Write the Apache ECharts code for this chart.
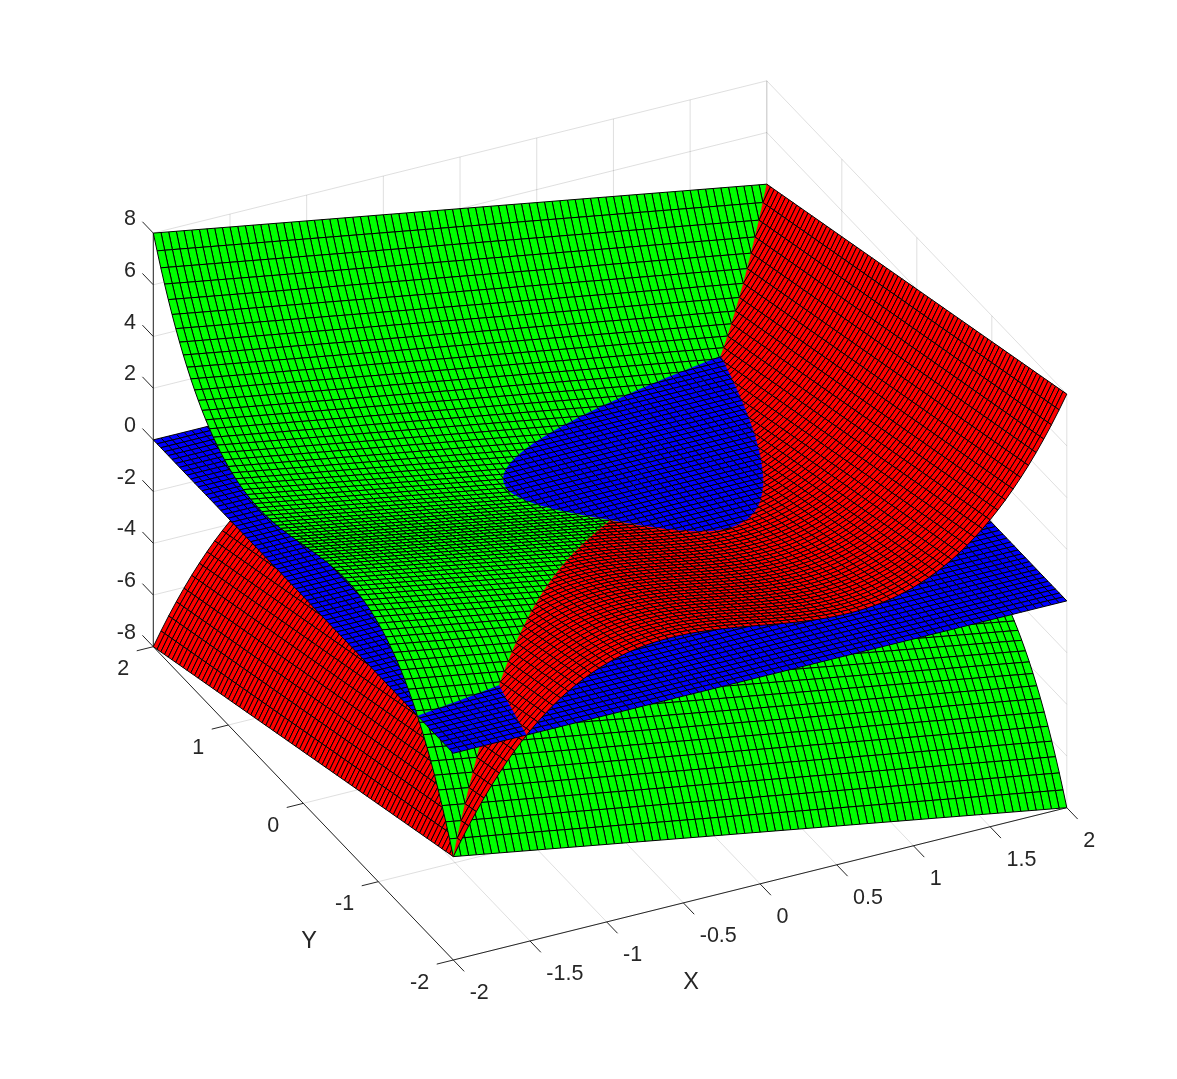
<!DOCTYPE html>
<html>
<head>
<meta charset="utf-8">
<style>html,body{margin:0;padding:0;background:#fff}#chart{width:1177px;height:1079px}</style>
<script src="https://cdn.jsdelivr.net/npm/echarts@6/dist/echarts.min.js"></script>
</head>
<body>
<div id="chart"></div>
<script>
// Sample positions of the mesh along both horizontal axes.
var xValues = [-2,-1.95,-1.9,-1.85,-1.8,-1.75,-1.7,-1.65,-1.6,-1.55,-1.5,-1.45,-1.4,-1.35,-1.3,-1.25,-1.2,-1.15,-1.1,-1.05,-1,-0.95,-0.9,-0.85,-0.8,-0.75,-0.7,-0.65,-0.6,-0.55,-0.5,-0.45,-0.4,-0.35,-0.3,-0.25,-0.2,-0.15,-0.1,-0.05,0,0.05,0.1,0.15,0.2,0.25,0.3,0.35,0.4,0.45,0.5,0.55,0.6,0.65,0.7,0.75,0.8,0.85,0.9,0.95,1,1.05,1.1,1.15,1.2,1.25,1.3,1.35,1.4,1.45,1.5,1.55,1.6,1.65,1.7,1.75,1.8,1.85,1.9,1.95,2];
var yValues = xValues;
// Height profile shared by the two curved sheets, tabulated at the mesh positions.
// Each sheet's table is this profile along one axis minus the position on the other.
var sheetProfile = [-6,-5.465,-4.959,-4.482,-4.032,-3.609,-3.213,-2.842,-2.496,-2.174,-1.875,-1.599,-1.344,-1.11,-0.897,-0.703,-0.528,-0.371,-0.231,-0.108,0,0.093,0.171,0.236,0.288,0.328,0.357,0.375,0.384,0.384,0.375,0.359,0.336,0.307,0.273,0.234,0.192,0.147,0.099,0.05,0,-0.05,-0.099,-0.147,-0.192,-0.234,-0.273,-0.307,-0.336,-0.359,-0.375,-0.384,-0.384,-0.375,-0.357,-0.328,-0.288,-0.236,-0.171,-0.093,0,0.108,0.231,0.371,0.528,0.703,0.897,1.11,1.344,1.599,1.875,2.174,2.496,2.842,3.213,3.609,4.032,4.482,4.959,5.465,6];
var planeLevel = 0;
var xTicks = [-2,-1.5,-1,-0.5,0,0.5,1,1.5,2];
var yTicks = [-2,-1,0,1,2];
var zTicks = [-8,-6,-4,-2,0,2,4,6,8];
var xLabels = ['-2','-1.5','-1','-0.5','0','0.5','1','1.5','2'];
var yLabels = ['-2','-1','0','1','2'];
var zLabels = ['-8','-6','-4','-2','0','2','4','6','8'];

var greenColor = '#00ff00', redColor = '#ff0000', blueColor = '#0000ff';
var axisColor = '#262626', gridColor = 'rgba(38,38,38,0.15)', edgeColor = '#000000';
var fontFamily = '"Liberation Sans", Arial, sans-serif';
var meshWidth = 1;

// Fixed orthographic view of the box.
function project(p) {
  var tx = (p[0] + 2) / 4, ty = (p[1] + 2) / 4, tz = p[2] + 8;
  return [453.3 + tx * 613.5 - ty * 300, 960 - tx * 152.3 - ty * 313.3 - tz * 25.85];
}

var N = xValues.length;
function greenAt(i, j) { return sheetProfile[j] - xValues[i]; }
function redAt(i, j) { return sheetProfile[i] - yValues[j]; }

// Keep the part of a polygon on one side of the plane.
function clipToSide(poly, side) {
  var out = [];
  for (var k = 0; k < poly.length; k++) {
    var a = poly[k], b = poly[(k + 1) % poly.length];
    var da = side * (a[2] - planeLevel), db = side * (b[2] - planeLevel);
    if (da >= 0) out.push(a);
    if ((da > 0 && db < 0) || (da < 0 && db > 0)) {
      var t = da / (da - db);
      out.push([a[0] + t * (b[0] - a[0]), a[1] + t * (b[1] - a[1]), planeLevel]);
    }
  }
  return out;
}

var pieces = [];
function pushPiece(poly, color, whole) {
  if (poly.length >= 3) pieces.push({ poly: poly, color: color, whole: whole });
}
function pushSheet(poly, color, side) {
  var allIn = poly.every(function (v) { return side * (v[2] - planeLevel) >= 0; });
  if (allIn) { pushPiece(poly, color, poly.length === 4); return; }
  var anyIn = poly.some(function (v) { return side * (v[2] - planeLevel) > 0; });
  if (anyIn) pushPiece(clipToSide(poly, side), color, false);
}
function pushStack(corners, greenOnTop) {
  var g = corners.map(function (c) { return [xValues[c[0]], yValues[c[1]], greenAt(c[0], c[1])]; });
  var r = corners.map(function (c) { return [xValues[c[0]], yValues[c[1]], redAt(c[0], c[1])]; });
  var b = corners.map(function (c) { return [xValues[c[0]], yValues[c[1]], planeLevel]; });
  var low = greenOnTop ? r : g, lowC = greenOnTop ? redColor : greenColor;
  var up = greenOnTop ? g : r, upC = greenOnTop ? greenColor : redColor;
  pushSheet(low, lowC, -1);
  pushSheet(up, upC, -1);
  pushPiece(b, blueColor, b.length === 4);
  pushSheet(low, lowC, 1);
  pushSheet(up, upC, 1);
}
// Far columns first, lowest sheet first inside a column.
for (var j = N - 2; j >= 0; j--) {
  for (var i = N - 2; i >= 0; i--) {
    if (i === j) {
      pushStack([[i, j], [i + 1, j + 1], [i, j + 1]], true);
      pushStack([[i, j], [i + 1, j], [i + 1, j + 1]], false);
    } else {
      pushStack([[i, j], [i + 1, j], [i + 1, j + 1], [i, j + 1]], i < j);
    }
  }
}

// Box furniture.
var segments = [];
function seg(a, b, color, width) { segments.push({ a: a, b: b, color: color, width: width }); }
xTicks.forEach(function (x) {
  seg([x, -2, -8], [x, 2, -8], gridColor, 1);
  seg([x, 2, -8], [x, 2, 8], gridColor, 1);
});
yTicks.forEach(function (y) {
  seg([-2, y, -8], [2, y, -8], gridColor, 1);
  seg([2, y, -8], [2, y, 8], gridColor, 1);
});
zTicks.forEach(function (z) {
  seg([-2, 2, z], [2, 2, z], gridColor, 1);
  seg([2, -2, z], [2, 2, z], gridColor, 1);
});
seg([-2, -2, -8], [2, -2, -8], axisColor, 1);
seg([-2, -2, -8], [-2, 2, -8], axisColor, 1);
seg([-2, 2, -8], [-2, 2, 8], axisColor, 1);
var labels = [];
xTicks.forEach(function (x, k) {
  seg([x, -2, -8], [x, -2.145, -8], axisColor, 1);
  var end = project([x, -2.145, -8]);
  labels.push({ text: xLabels[k], x: end[0] + 5.5, y: end[1] + 22, align: 'left', size: 21.5 });
});
yTicks.forEach(function (y, k) {
  seg([-2, y, -8], [-2.108, y, -8], axisColor, 1);
  var end = project([-2.108, y, -8]);
  labels.push({ text: yLabels[k], x: end[0] - 7.5, y: end[1] + 18.5, align: 'right', size: 21.5 });
});
zTicks.forEach(function (z, k) {
  seg([-2, 2, z], [-2, 2.145, z], axisColor, 1);
  var end = project([-2, 2.145, z]);
  labels.push({ text: zLabels[k], x: end[0] - 6.5, y: end[1] - 2.5, align: 'right', size: 21.5 });
});
labels.push({ text: 'X', x: 691, y: 983, align: 'center', size: 23.5 });
labels.push({ text: 'Y', x: 309, y: 942, align: 'center', size: 23.5 });

function indexData(list) { return list.map(function (_, k) { return [k]; }); }

var chart = echarts.init(document.getElementById('chart'), null, { renderer: 'canvas' });
chart.setOption({
  animation: false,
  backgroundColor: '#ffffff',
  grid: { left: 0, right: 0, top: 0, bottom: 0 },
  xAxis: { type: 'value', min: 0, max: 1177, show: false },
  yAxis: { type: 'value', min: 0, max: 1079, inverse: true, show: false },
  series: [
    {
      type: 'custom', coordinateSystem: 'cartesian2d', silent: true, clip: false, z: 1, progressive: 0,
      data: indexData(segments),
      renderItem: function (params, api) {
        var s = segments[api.value(0)];
        var a = api.coord(project(s.a)), b = api.coord(project(s.b));
        return {
          type: 'line',
          shape: { x1: a[0], y1: a[1], x2: b[0], y2: b[1] },
          style: { stroke: s.color, lineWidth: s.width, fill: null }
        };
      }
    },
    {
      type: 'custom', coordinateSystem: 'cartesian2d', silent: true, clip: false, z: 2, progressive: 0,
      data: indexData(pieces),
      renderItem: function (params, api) {
        var piece = pieces[api.value(0)];
        var pts = piece.poly.map(function (v) { return api.coord(project(v)); });
        if (piece.whole) {
          return {
            type: 'polygon', shape: { points: pts },
            style: { fill: piece.color, stroke: edgeColor, lineWidth: meshWidth }
          };
        }
        var children = [{
          type: 'polygon', shape: { points: pts },
          style: { fill: piece.color, stroke: piece.color, lineWidth: 0.3 }
        }];
        for (var k = 0; k < pts.length; k++) {
          var m = (k + 1) % pts.length, a = piece.poly[k], b = piece.poly[m];
          if (a[0] === b[0] || a[1] === b[1]) {
            children.push({
              type: 'line',
              shape: { x1: pts[k][0], y1: pts[k][1], x2: pts[m][0], y2: pts[m][1] },
              style: { stroke: edgeColor, lineWidth: meshWidth, fill: null }
            });
          }
        }
        return { type: 'group', children: children };
      }
    },
    {
      type: 'custom', coordinateSystem: 'cartesian2d', silent: true, clip: false, z: 3, progressive: 0,
      data: indexData(labels),
      renderItem: function (params, api) {
        var l = labels[api.value(0)];
        var c = api.coord([l.x, l.y]);
        return {
          type: 'text', x: c[0], y: c[1],
          style: {
            text: l.text, textAlign: l.align, textVerticalAlign: 'middle',
            font: l.size + 'px ' + fontFamily, fill: axisColor
          }
        };
      }
    }
  ]
});
</script>
</body>
</html>
